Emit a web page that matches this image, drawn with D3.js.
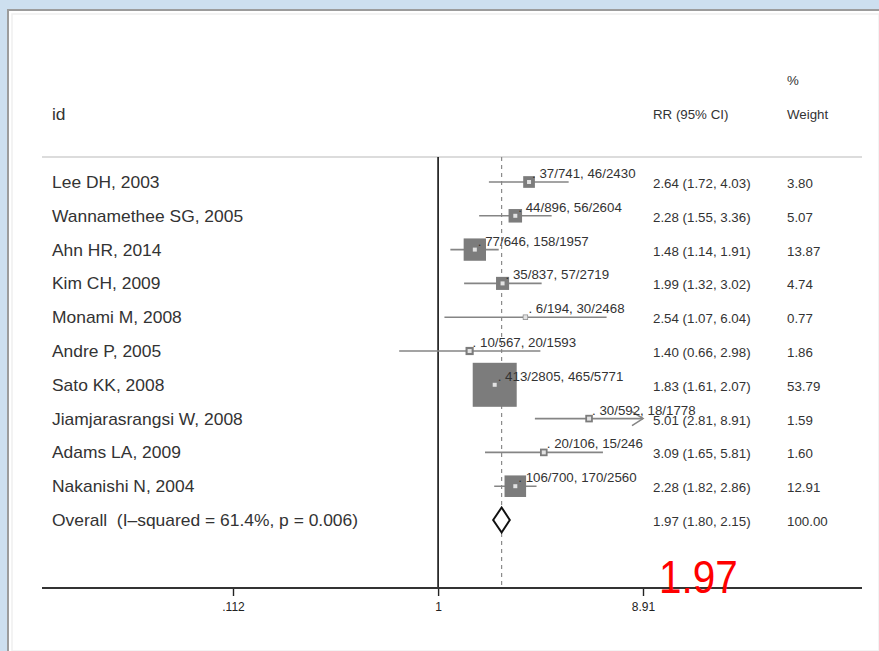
<!DOCTYPE html>
<html>
<head>
<meta charset="UTF-8"/>
<title>Forest plot</title>
<style type="text/css">
  body { margin: 0; background: #fff; }
  svg { display: block; }
  text { font-family: "Liberation Sans", Arial, Helvetica, sans-serif; fill: #333; }
  text.label { font-size: 16px; }
  text.col { font-size: 13.3px; }
  text.count { font-size: 13.3px; }
  text.tick { font-size: 12px; fill: #222; }
  text.big { font-family: "Liberation Sans", Arial, sans-serif; font-size: 46px; fill: #ff0000; }
  .ci { stroke: #858585; stroke-width: 1.6; fill: none; }
  .box { fill: #7c7c7c; }
  .pt { fill: #e2e2e2; }
</style>
</head>
<body>
<svg width="879" height="651"></svg>
<script src="https://d3js.org/d3.v7.min.js"></script>
<script type="text/javascript">
const studies = ['Lee DH, 2003', 'Wannamethee SG, 2005', 'Ahn HR, 2014', 'Kim CH, 2009', 'Monami M, 2008',
  'Andre P, 2005', 'Sato KK, 2008', 'Jiamjarasrangsi W, 2008', 'Adams LA, 2009', 'Nakanishi N, 2004'];
const rr = [2.64, 2.28, 1.48, 1.99, 2.54, 1.40, 1.83, 5.01, 3.09, 2.28];
const lo = [1.72, 1.55, 1.14, 1.32, 1.07, 0.66, 1.61, 2.81, 1.65, 1.82];
const hi = [4.03, 3.36, 1.91, 3.02, 6.04, 2.98, 2.07, 8.91, 5.81, 2.86];
const weights = [3.80, 5.07, 13.87, 4.74, 0.77, 1.86, 53.79, 1.59, 1.60, 12.91];
const counts = ['37/741, 46/2430', '44/896, 56/2604', '77/646, 158/1957', '35/837, 57/2719', '6/194, 30/2468',
  '10/567, 20/1593', '413/2805, 465/5771', '30/592, 18/1778', '20/106, 15/246', '106/700, 170/2560'];
const overallLabel = 'Overall  (I\u2013squared = 61.4%, p = 0.006)';
const overall = [1.97, 1.80, 2.15];
const overallWeight = '100.00';
const tickValues = [0.112, 1, 8.91];
const tickLabels = ['.112', '1', '8.91'];
const bigLabel = '1.97';

const svg = d3.select('svg');
const W = 879, H = 651;
const left = 42, right = 862;
const axisY = 588, topLine = 157;
const stretch = 1.09;

// window frame around the graph
svg.append('rect').attr('width', W).attr('height', H).attr('fill', '#cddfef');
svg.append('rect').attr('x', 7).attr('y', 9).attr('width', W - 7).attr('height', H - 9).attr('fill', '#9c9c9c');
svg.append('rect').attr('x', 9).attr('y', 11).attr('width', W - 9).attr('height', H - 11).attr('fill', '#ffffff');
svg.append('rect').attr('x', 12).attr('y', 14).attr('width', W - 12).attr('height', H - 14)
  .attr('fill', 'none').attr('stroke', '#efefef').attr('stroke-width', 1.5);

const x = d3.scaleLog().domain([0.112, 8.91]).range([233, 643]);
const y = d3.scalePoint().domain(d3.range(studies.length + 1)).range([182, 520]);
const side = w => 6 * Math.sqrt(w);
const f2 = d3.format('.2f');

// header
const addLabel = (g, xx, yy, txt) => g.append('text')
  .attr('class', 'label')
  .attr('transform', `translate(${xx},${yy}) scale(${stretch},1)`)
  .style('white-space', 'pre')
  .text(txt);
addLabel(svg, 52, 120, 'id');
svg.append('text').attr('class', 'col').attr('x', 653).attr('y', 119).text('RR (95% CI)');
svg.append('text').attr('class', 'col').attr('x', 787).attr('y', 85).text('%');
svg.append('text').attr('class', 'col').attr('x', 787).attr('y', 119).text('Weight');

svg.append('line').attr('x1', left).attr('x2', right).attr('y1', topLine).attr('y2', topLine)
  .attr('stroke', '#dcdcdc').attr('stroke-width', 2);

// reference lines
svg.append('line').attr('x1', x(1)).attr('x2', x(1)).attr('y1', topLine).attr('y2', axisY)
  .attr('stroke', '#111').attr('stroke-width', 1.6);
svg.append('line').attr('x1', x(overall[0])).attr('x2', x(overall[0])).attr('y1', topLine).attr('y2', axisY)
  .attr('stroke', '#8a8a8a').attr('stroke-width', 1.2).attr('stroke-dasharray', '4,4');

// axis
const axis = svg.append('g').attr('transform', `translate(0,${axisY})`)
  .call(d3.axisBottom(x).tickValues(tickValues).tickFormat((d, i) => tickLabels[i]).tickSize(8).tickPadding(6));
axis.select('.domain').remove();
axis.selectAll('.tick line').attr('stroke', '#222').attr('stroke-width', 1.4);
axis.selectAll('.tick text').attr('class', 'tick').attr('font-size', null).attr('font-family', null).attr('fill', null);
svg.append('line').attr('x1', left).attr('x2', right).attr('y1', axisY).attr('y2', axisY)
  .attr('stroke', '#333').attr('stroke-width', 2);

// study rows
const rows = svg.selectAll('g.row').data(studies).enter().append('g').attr('class', 'row');
rows.each(function (s, i) {
  const g = d3.select(this);
  const yy = y(i);
  const xHi = Math.min(hi[i], x.domain()[1]);
  addLabel(g, 52, yy + 6, s);
  g.append('line').attr('class', 'ci').attr('x1', x(lo[i])).attr('x2', x(xHi)).attr('y1', yy).attr('y2', yy);
  if (hi[i] >= x.domain()[1]) {
    const ax = x(xHi);
    g.append('path').attr('class', 'ci').attr('d', `M${ax - 11},${yy - 7}L${ax},${yy}L${ax - 11},${yy + 7}`);
  }
  const s2 = side(weights[i]);
  g.append('rect').attr('class', 'box').attr('x', x(rr[i]) - s2 / 2).attr('y', yy - s2 / 2)
    .attr('width', s2).attr('height', s2);
  g.append('rect').attr('class', 'pt').attr('x', x(rr[i]) - 2).attr('y', yy - 2).attr('width', 4).attr('height', 4);
  g.append('text').attr('class', 'count').attr('x', x(rr[i]) + 3).attr('y', yy - 4)
    .style('white-space', 'pre').text('. ' + counts[i]);
  g.append('text').attr('class', 'col').attr('x', 653).attr('y', yy + 6)
    .text(`${f2(rr[i])} (${f2(lo[i])}, ${f2(hi[i])})`);
  g.append('text').attr('class', 'col').attr('x', 787).attr('y', yy + 6).text(f2(weights[i]));
});

// overall
const yo = y(studies.length);
addLabel(svg, 52, yo + 6, overallLabel);
svg.append('path')
  .attr('d', `M${x(overall[1])},${yo}L${x(overall[0])},${yo - 12.5}L${x(overall[2])},${yo}L${x(overall[0])},${yo + 12.5}Z`)
  .attr('fill', '#fff').attr('stroke', '#111').attr('stroke-width', 2);
svg.append('text').attr('class', 'col').attr('x', 653).attr('y', yo + 6)
  .text(`${f2(overall[0])} (${f2(overall[1])}, ${f2(overall[2])})`);
svg.append('text').attr('class', 'col').attr('x', 787).attr('y', yo + 6).text(overallWeight);

// red annotation
svg.append('text').attr('class', 'big')
  .attr('transform', 'translate(659,593) scale(0.88,1)')
  .text(bigLabel);
</script>
</body>
</html>
